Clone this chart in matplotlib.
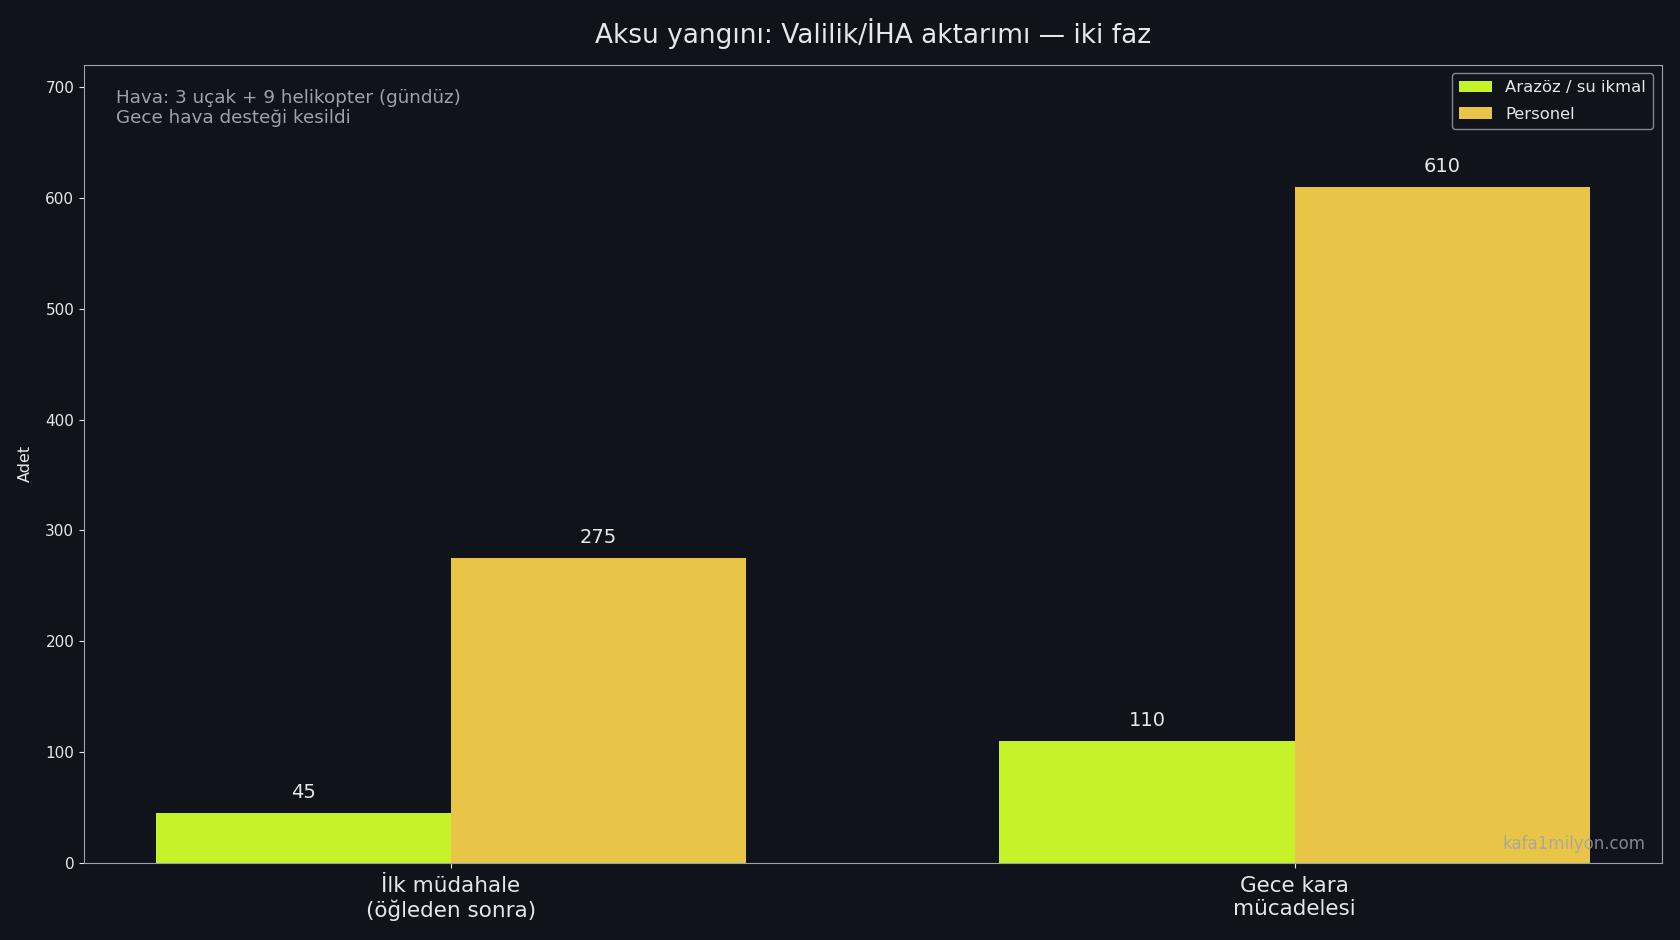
import numpy as np
import matplotlib.pyplot as plt

# veriler
fazlar = ["İlk müdahale\n(öğleden sonra)", "Gece kara\nmücadelesi"]
arazoz = [45, 110]
personel = [275, 610]

bg = "#11131a"
fg = "#e5e7eb"

fig, ax = plt.subplots(figsize=(16.8, 9.4), dpi=100)
fig.patch.set_facecolor(bg)
ax.set_facecolor(bg)
fig.subplots_adjust(left=0.05, right=0.989, top=0.931, bottom=0.082)

x = np.arange(len(fazlar))
w = 0.35
b1 = ax.bar(x - w/2, arazoz, w, color="#c6f22a", label="Arazöz / su ikmal")
b2 = ax.bar(x + w/2, personel, w, color="#e8c547", label="Personel")

for bars in (b1, b2):
    for bar in bars:
        h = bar.get_height()
        ax.annotate(str(int(h)), (bar.get_x() + bar.get_width()/2, h),
                    xytext=(0, 8), textcoords="offset points",
                    ha="center", va="bottom", color=fg, fontsize=14)

ax.set_ylim(0, 720)
ax.set_xticks(x)
ax.set_xticklabels(fazlar, fontsize=15.5, color=fg)
ax.tick_params(axis="y", colors=fg, labelsize=11)
ax.tick_params(axis="x", colors=fg, pad=6)
ax.set_ylabel("Adet", color=fg, fontsize=11.5, labelpad=9)
for s in ax.spines.values():
    s.set_color("#9ca3af")

ax.set_title("Aksu yangını: Valilik/İHA aktarımı — iki faz", color=fg, fontsize=19, pad=16)

ax.text(0.02, 0.97, "Hava: 3 uçak + 9 helikopter (gündüz)\nGece hava desteği kesildi",
        transform=ax.transAxes, ha="left", va="top", color="#9ca3af", fontsize=13.2,
        linespacing=1.15)

leg = ax.legend(loc="upper right", fontsize=11.8, facecolor=bg, edgecolor="#9ca3af",
                labelcolor=fg, borderpad=0.45, labelspacing=0.68)

ax.text(0.99, 0.012, "kafa1milyon.com", transform=ax.transAxes, ha="right", va="bottom",
        color="#9ca3af", alpha=0.8, fontsize=12)

plt.savefig("out.png", facecolor=bg)
